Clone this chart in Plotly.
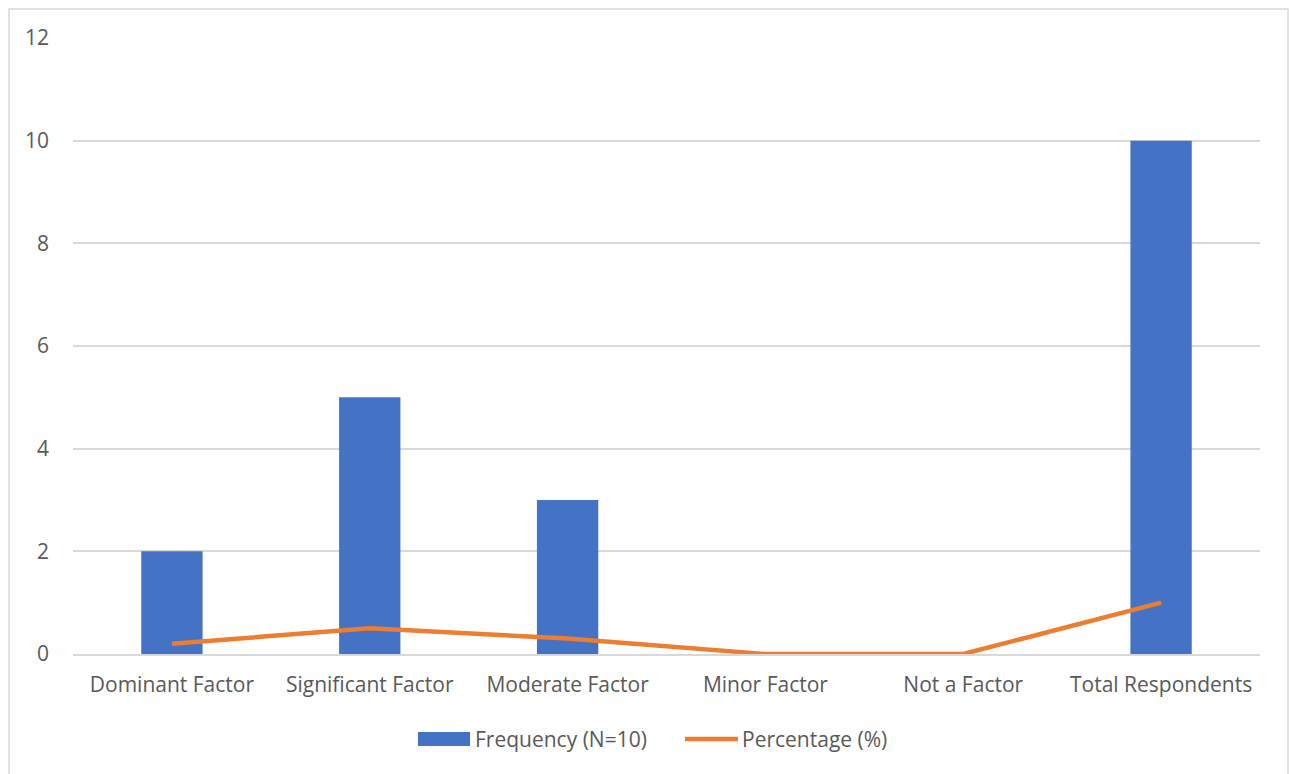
import plotly.graph_objects as go

categories = ["Dominant Factor", "Significant Factor", "Moderate Factor",
              "Minor Factor", "Not a Factor", "Total Respondents"]
frequency = [2, 5, 3, 0, 0, 10]
percentage = [0.2, 0.5, 0.3, 0, 0, 1]
y_ticks = [0, 2, 4, 6, 8, 10, 12]
series_names = ["Frequency (N=10)", "Percentage (%)"]

BLUE = "#4472C4"
ORANGE = "#ED7D31"
GRID = "#D9D9D9"
TEXT = "#595959"
FONT = "Open Sans"
SIZE = 21

fig = go.Figure()
fig.add_trace(go.Bar(
    x=categories, y=frequency, name=series_names[0],
    marker=dict(color=BLUE, line=dict(width=0)),
    width=0.31, showlegend=False,
))
fig.add_trace(go.Scatter(
    x=categories, y=percentage, name=series_names[1],
    mode="lines", line=dict(color=ORANGE, width=4.5), showlegend=False,
))

# legend drawn below the plot: a swatch and a line sample with their labels
legend_y = -0.138
shapes = [
    dict(type="rect", xref="paper", yref="paper",
         x0=-0.0539, x1=1.0236, y0=-0.3, y1=1.0471,
         line=dict(color=GRID, width=1.5), fillcolor="rgba(0,0,0,0)", layer="below"),
    dict(type="rect", xref="paper", yref="paper",
         x0=0.2906, x1=0.3345, y0=-0.1494, y1=-0.1266,
         line=dict(width=0), fillcolor=BLUE),
    dict(type="line", xref="paper", yref="paper",
         x0=0.5156, x1=0.5602, y0=legend_y, y1=legend_y,
         line=dict(color=ORANGE, width=4.5)),
]
annotations = [
    dict(xref="paper", yref="paper", x=0.3370, y=legend_y, text=series_names[0],
         showarrow=False, xanchor="left", yanchor="middle",
         font=dict(family=FONT, size=SIZE, color=TEXT)),
    dict(xref="paper", yref="paper", x=0.5620, y=legend_y, text=series_names[1],
         showarrow=False, xanchor="left", yanchor="middle",
         font=dict(family=FONT, size=SIZE, color=TEXT)),
]

fig.update_layout(
    width=1289, height=774,
    margin=dict(l=73, r=29, t=38, b=120),
    paper_bgcolor="white", plot_bgcolor="white",
    font=dict(family=FONT, size=SIZE, color=TEXT),
    showlegend=False,
    xaxis=dict(showgrid=False, showline=True, linecolor=GRID, linewidth=1.5,
               ticks="", tickfont=dict(size=SIZE, color=TEXT), ticklabelstandoff=11,
               range=[-0.5, 5.5]),
    yaxis=dict(range=[0, 12], tickvals=y_ticks, showgrid=True, gridcolor=GRID,
               gridwidth=1.5, zeroline=False, showline=False, ticks="",
               tickfont=dict(size=SIZE, color=TEXT), ticklabelstandoff=23),
    shapes=shapes,
    annotations=annotations,
)

fig.write_html("out.html")
